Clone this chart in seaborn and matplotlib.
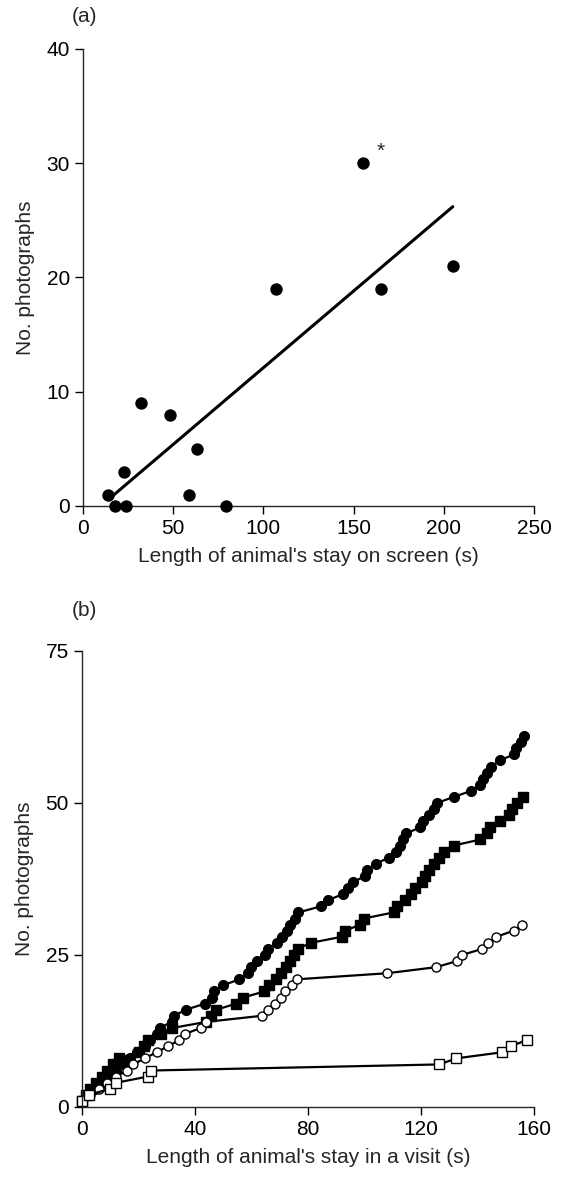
import matplotlib
matplotlib.use("Agg")
import matplotlib.pyplot as plt
import seaborn as sns
import numpy as np
import pandas as pd

# ---- Panel (a) data ----
stay_a = [14, 18, 23, 24, 32, 48, 59, 63, 79, 107, 155, 165, 205]
photos_a = [1, 0, 3, 0, 9, 8, 1, 5, 0, 19, 30, 19, 21]
star_point = (155, 30)

# ---- Panel (b) data (cumulative counts) ----
fc_x = [0, 2, 4.5, 7, 9.5, 12, 14.5, 17, 19.3, 22.2, 24, 26.4, 27.5, 31.7, 32.5, 36.8,
        43.5, 45.9, 46.7, 49.8, 55.7, 58.9, 59.7, 61.8, 64.8, 66, 69, 70.7, 72.5, 73.7,
        75.3, 76.6, 84.5, 87, 92.3, 94, 96.1, 100.2, 101, 104, 108.5, 111.2, 112.7, 113.8,
        114.8, 119.8, 120.6, 122.7, 124.5, 125.7, 131.6, 137.8, 140.8, 141.8, 143.5, 144.8,
        147.9, 153, 153.8, 155.3, 156.5]
fc_y = list(range(1, 62))

fs_x = [0, 1.5, 3, 5, 7, 9, 11, 13, 20, 22, 23.5, 28, 32, 44, 45.5, 47.6, 54.5, 57,
        64.5, 66.3, 68.5, 70.3, 72.3, 73.5, 75.2, 76.3, 81, 92, 93.2, 98.5, 99.7, 110.3,
        111.5, 114.5, 116.5, 118, 120.4, 121.5, 122.7, 124.5, 126.2, 128, 131.6, 141,
        143.4, 144.6, 148, 151, 152.3, 154, 156.2]
fs_y = list(range(1, 52))

oc_x = [0, 3, 6, 9, 12, 16, 18.1, 22.2, 26.4, 30.5, 34.4, 36.4, 42, 44, 63.6, 66, 68.3,
        70.5, 72, 74.5, 76, 108, 125.4, 132.7, 134.5, 141.6, 143.7, 146.7, 152.8, 155.8]
oc_y = list(range(1, 31))

os_x = [0, 2.5, 10, 12.2, 23.2, 24.5, 126.5, 132.5, 148.7, 151.7, 157.5]
os_y = list(range(1, 12))

xticks_a = [0, 50, 100, 150, 200, 250]
yticks_a = [0, 10, 20, 30, 40]
xticks_b = [0, 40, 80, 120, 160]
yticks_b = [0, 25, 50, 75]

sns.set_style("ticks")
plt.rcParams['font.family'] = ['Liberation Sans', 'DejaVu Sans']
FS = 15
plt.rcParams['font.size'] = FS

fig = plt.figure(figsize=(5.63, 11.78), dpi=100)
W, H = 563, 1178
ax_a = fig.add_axes([83 / W, 1 - 506 / H, (534 - 83) / W, (506 - 49) / H])
ax_b = fig.add_axes([82 / W, 1 - 1107 / H, (534 - 82) / W, (1107 - 651) / H])

# Panel (a)
dfa = pd.DataFrame({"stay": stay_a, "photos": photos_a})
sns.regplot(data=dfa, x="stay", y="photos", ax=ax_a, scatter=False, ci=None,
            truncate=True, line_kws=dict(color="black", lw=2.2))
sns.scatterplot(data=dfa, x="stay", y="photos", ax=ax_a, color="black", s=80,
                edgecolor="black", linewidth=0, zorder=5, clip_on=False)
ax_a.text(star_point[0] + 7.5, star_point[1] + 1.0, "*", fontsize=FS, ha="left", va="center")
ax_a.set_xlim(0, 250)
ax_a.set_ylim(0, 40)
ax_a.set_xticks(xticks_a)
ax_a.set_yticks(yticks_a)
ax_a.set_xlabel("Length of animal's stay on screen (s)", fontsize=FS, labelpad=6)
ax_a.set_ylabel("No. photographs", fontsize=FS, labelpad=8)
fig.text(72 / W, 1 - 16 / H, "(a)", fontsize=FS, ha="left", va="center")

# Panel (b)
series = [
    (fc_x, fc_y, "o", "black", 7.0),
    (fs_x, fs_y, "s", "black", 6.8),
    (oc_x, oc_y, "o", "white", 6.5),
    (os_x, os_y, "s", "white", 6.5),
]
for xs, ys, mk, mfc, ms in series:
    sns.lineplot(x=xs, y=ys, ax=ax_b, color="black", lw=1.6, marker=mk,
                 markersize=ms, markerfacecolor=mfc, markeredgecolor="black",
                 markeredgewidth=1.0, estimator=None, sort=False, clip_on=False)
ax_b.set_xlim(0, 160)
ax_b.set_ylim(0, 75)
ax_b.set_xticks(xticks_b)
ax_b.set_yticks(yticks_b)
ax_b.set_xlabel("Length of animal's stay in a visit (s)", fontsize=FS, labelpad=6)
ax_b.set_ylabel("No. photographs", fontsize=FS, labelpad=8)
fig.text(72 / W, 1 - 610 / H, "(b)", fontsize=FS, ha="left", va="center")

for ax in (ax_a, ax_b):
    sns.despine(ax=ax)
    ax.spines["left"].set_linewidth(1.0)
    ax.spines["bottom"].set_linewidth(1.0)
    ax.tick_params(direction="out", length=6, width=1.0, labelsize=FS, colors="black")

fig.savefig("out.png", dpi=100)
